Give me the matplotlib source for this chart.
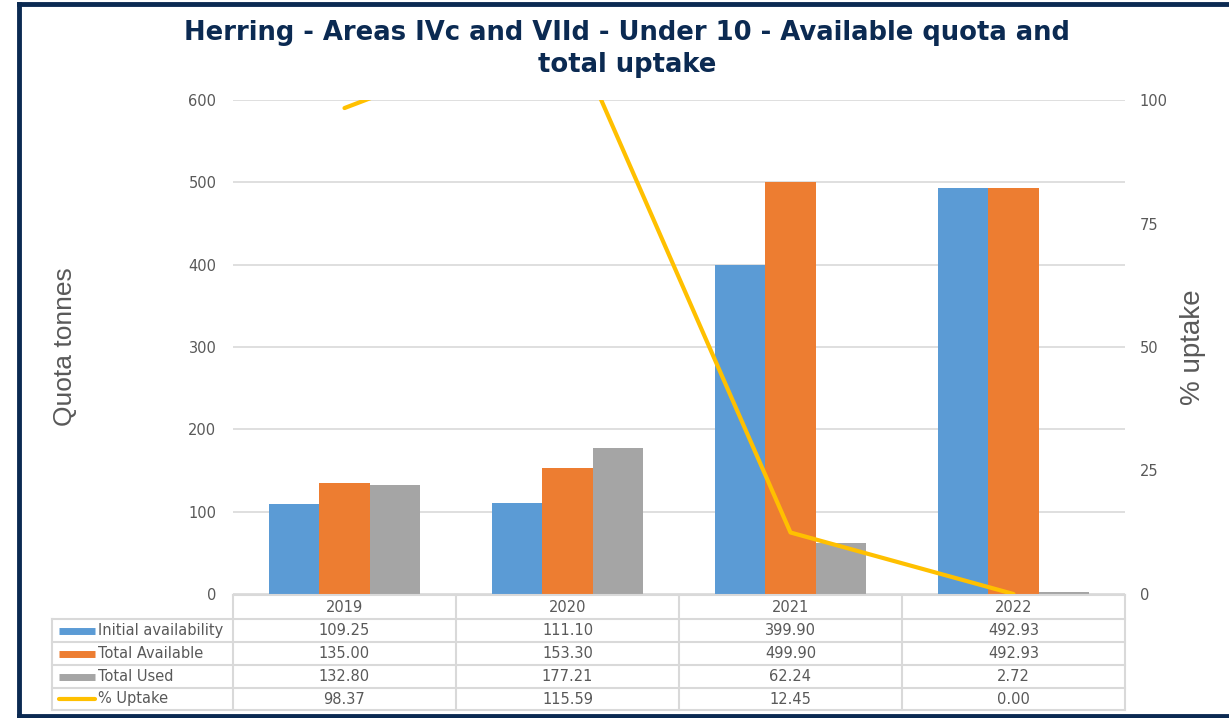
import numpy as np
import matplotlib.pyplot as plt
from matplotlib.lines import Line2D

plt.rcParams['font.family'] = ['DejaVu Sans']

# Datos
years = ["2019", "2020", "2021", "2022"]
initial_availability = [109.25, 111.10, 399.90, 492.93]
total_available = [135.00, 153.30, 499.90, 492.93]
total_used = [132.80, 177.21, 62.24, 2.72]
pct_uptake = [98.37, 115.59, 12.45, 0.00]

series_names = ["Initial availability", "Total Available", "Total Used", "% Uptake"]
colors = ["#5B9BD5", "#ED7D31", "#A5A5A5", "#FFC000"]
grey_txt = "#595959"
navy = "#0B2A52"

W, H = 1229, 718
fig = plt.figure(figsize=(W / 100, H / 100), dpi=100)

# área del gráfico en píxeles
left, right, top, bottom = 233, 1125, 100, 594
ax = fig.add_axes([left / W, 1 - bottom / H, (right - left) / W, (bottom - top) / H])

x = np.arange(len(years))
bw = 0.225
bar_series = [initial_availability, total_available, total_used]
for i, vals in enumerate(bar_series):
    ax.bar(x + (i - 1) * bw, vals, width=bw, color=colors[i], zorder=2)

ax.set_xlim(-0.5, len(years) - 0.5)
ax.set_ylim(0, 600)
ax.set_yticks(range(0, 601, 100))
ax.yaxis.grid(True, color="#D9D9D9", linewidth=1.2, zorder=0)
ax.set_xticks([])
for s in ax.spines.values():
    s.set_visible(False)
ax.tick_params(axis='y', length=0, pad=12, labelsize=10.5, labelcolor=grey_txt)
ax.set_ylabel("Quota tonnes", fontsize=19, color=grey_txt, labelpad=80,
              family='Liberation Sans')

# eje secundario
ax2 = ax.twinx()
ax2.plot(x, pct_uptake, color=colors[3], linewidth=3, solid_capstyle='round', zorder=3)
ax2.set_ylim(0, 100)
ax2.set_yticks([0, 25, 50, 75, 100])
for s in ax2.spines.values():
    s.set_visible(False)
ax2.tick_params(axis='y', length=0, pad=10.5, labelsize=10.5, labelcolor=grey_txt)
ax2.set_ylabel("% uptake", fontsize=20, color=grey_txt, labelpad=9,
               family='Liberation Sans')

# Título
fig.text(627 / W, 1 - 33 / H, "Herring - Areas IVc and VIId - Under 10 - Available quota and",
         ha='center', va='center', fontsize=18.6, fontweight='bold', color=navy)
fig.text(627 / W, 1 - 65 / H, "total uptake",
         ha='center', va='center', fontsize=18.6, fontweight='bold', color=navy)

# Tabla de datos
trans = ax.get_xaxis_transform()
ax_h = bottom - top
row_edges_px = [595, 619, 642, 665, 688, 710]
row_y = [-(r - bottom) / ax_h for r in row_edges_px]
line_kw = dict(color="#D9D9D9", linewidth=1.5, clip_on=False)
lab_left = (52 - left) / (right - left) * len(years) - 0.5  # en datos

# líneas horizontales
for k, yy in enumerate(row_y):
    x0 = -0.5 if k == 0 else lab_left
    ax.add_line(Line2D([x0, len(years) - 0.5], [yy, yy], transform=trans, **line_kw))
# líneas verticales
for c in range(len(years) + 1):
    ax.add_line(Line2D([c - 0.5, c - 0.5], [row_y[0], row_y[-1]], transform=trans, **line_kw))
ax.add_line(Line2D([lab_left, lab_left], [row_y[1], row_y[-1]], transform=trans, **line_kw))

# encabezados
for c, yr in enumerate(years):
    ax.text(c, (row_y[0] + row_y[1]) / 2, yr, transform=trans, ha='center', va='center',
            fontsize=10.5, color=grey_txt)

table_rows = [initial_availability, total_available, total_used, pct_uptake]
sw_w = 0.165
for r, (name, vals) in enumerate(zip(series_names, table_rows)):
    yc = (row_y[r + 1] + row_y[r + 2]) / 2
    sx0 = lab_left + 0.03
    if r < 3:
        ax.add_line(Line2D([sx0, sx0 + sw_w], [yc, yc], transform=trans, color=colors[r],
                           linewidth=5, solid_capstyle='butt', clip_on=False))
    else:
        ax.add_line(Line2D([sx0, sx0 + sw_w], [yc, yc], transform=trans, color=colors[r],
                           linewidth=3, solid_capstyle='round', clip_on=False))
    ax.text(sx0 + sw_w + 0.01, yc, name, transform=trans, ha='left', va='center',
            fontsize=10.5, color=grey_txt)
    for c, v in enumerate(vals):
        ax.text(c, yc, f"{v:.2f}", transform=trans, ha='center', va='center',
                fontsize=10.5, color=grey_txt)

# marco
border_kw = dict(color=navy, linewidth=3.5, transform=None)
fig.add_artist(Line2D([18.5, 18.5], [H - 4, H - 715.5], **border_kw))
fig.add_artist(Line2D([18.5, W], [H - 4, H - 4], **border_kw))
fig.add_artist(Line2D([18.5, W], [H - 715.5, H - 715.5], **border_kw))

fig.savefig("out.png", dpi=100)
